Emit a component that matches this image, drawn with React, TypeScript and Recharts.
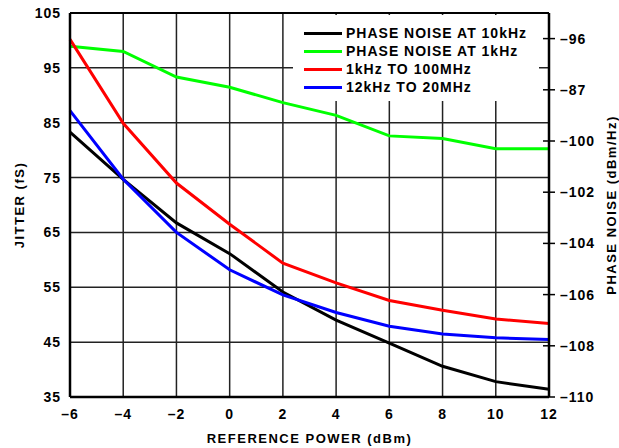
import { LineChart, Line, XAxis, YAxis, CartesianGrid, Legend, Label, ReferenceLine } from 'recharts'

// reference power sweep, dBm
const powerDbm = [-6, -4, -2, 0, 2, 4, 6, 8, 10, 12]

// phase noise, dBm/Hz (right axis)
const phaseNoise10k = [-99.65, -101.5, -103.2, -104.4, -105.9, -107.0, -107.9, -108.8, -109.4, -109.7]
const phaseNoise1k = [-96.3, -96.5, -97.5, -97.9, -98.5, -99.0, -99.8, -99.9, -100.3, -100.3]

// jitter, fs (left axis)
const jitter1kTo100M = [100.2, 84.9, 74.0, 66.5, 59.4, 55.8, 52.6, 50.8, 49.2, 48.4]
const jitter12kTo20M = [87.2, 74.7, 65.0, 58.2, 53.6, 50.4, 47.9, 46.5, 45.8, 45.5]

const seriesNames = ['PHASE NOISE AT 10kHz', 'PHASE NOISE AT 1kHz', '1kHz TO 100MHz', '12kHz TO 20MHz']
const seriesColors = ['#000000', '#00ff00', '#ff0000', '#0000ff']

const powerTicks = [-6, -4, -2, 0, 2, 4, 6, 8, 10, 12]
const jitterTicks = [35, 45, 55, 65, 75, 85, 95, 105]
const phaseTicks = [-110, -108, -106, -104, -102, -100, -98, -96]
const phaseTickText = ['–110', '–108', '–106', '–104', '–102', '–100', '–87', '–96']

const FONT = "'Liberation Sans', Arial, Helvetica, sans-serif"

const rows = powerDbm.map((p, i) => ({
  power: p,
  pn10k: phaseNoise10k[i],
  pn1k: phaseNoise1k[i],
  j100m: jitter1kTo100M[i],
  j20m: jitter12kTo20M[i],
}))

const dash = (v: number) => (v < 0 ? `–${Math.abs(v)}` : String(v))

function PhaseTick(props: any) {
  const { x, y, payload } = props
  const idx = phaseTicks.indexOf(payload.value)
  return (
    <g>
      <line x1={x - 6} x2={x + 6} y1={y} y2={y} stroke="#000" strokeWidth={1.5} />
      <text x={x + 11} y={y} dy={5} fontSize={14} fontWeight={700} letterSpacing={1} fill="#000" fontFamily={FONT}>
        {idx >= 0 ? phaseTickText[idx] : ''}
      </text>
    </g>
  )
}

function LegendBox() {
  return (
    <div style={{ background: '#fff', width: 246, height: 86, paddingTop: 9, boxSizing: 'border-box', fontFamily: FONT }}>
      {seriesNames.map((name, i) => (
        <div key={name} style={{ display: 'flex', alignItems: 'center', height: 18 }}>
          <span style={{ display: 'inline-block', width: 38, height: 3, marginLeft: 11, marginRight: 4, background: seriesColors[i] }} />
          <span style={{ fontSize: 14, fontWeight: 700, letterSpacing: 1, color: '#000', lineHeight: '18px' }}>{name}</span>
        </div>
      ))}
    </div>
  )
}

const titleStyle = { fontSize: 13, fontWeight: 700, letterSpacing: 1.5, fill: '#000', fontFamily: FONT }

export default function App() {
  return (
    <div style={{ position: 'absolute', left: 0, top: 0, width: 619, height: 448, background: '#fff' }}>
      <LineChart width={619} height={448} data={rows} margin={{ top: 13, right: 0, bottom: 0, left: 0 }} style={{ fontFamily: FONT }}>
        <CartesianGrid yAxisId="left" stroke="#222" strokeWidth={1.5} horizontalValues={jitterTicks} verticalValues={powerTicks} />
        <XAxis
          dataKey="power"
          type="number"
          domain={[-6, 12]}
          ticks={powerTicks}
          tickFormatter={dash}
          height={51}
          tickSize={0}
          tickMargin={12}
          axisLine={{ stroke: '#000', strokeWidth: 2.5 }}
          tick={{ fontSize: 14, fontWeight: 700, fill: '#000', letterSpacing: 1 }}
        >
          <Label
            content={(p: any) => {
              const vb = p.viewBox
              return (
                <text x={vb.x + vb.width / 2} y={443} textAnchor="middle" {...titleStyle}>
                  REFERENCE POWER (dBm)
                </text>
              )
            }}
          />
        </XAxis>
        <YAxis
          yAxisId="left"
          domain={[35, 105]}
          ticks={jitterTicks}
          width={70}
          tickSize={0}
          tickMargin={9}
          axisLine={{ stroke: '#000', strokeWidth: 2.5 }}
          tick={{ fontSize: 14, fontWeight: 700, fill: '#000', letterSpacing: 1 }}
        >
          <Label
            content={(p: any) => {
              const vb = p.viewBox
              const cy = vb.y + vb.height / 2
              return (
                <text x={24} y={cy} textAnchor="middle" transform={`rotate(-90, 24, ${cy})`} {...titleStyle}>
                  JITTER (fS)
                </text>
              )
            }}
          />
        </YAxis>
        <YAxis
          yAxisId="right"
          orientation="right"
          domain={[-110, -95]}
          ticks={phaseTicks}
          width={70}
          tickSize={0}
          tickMargin={0}
          axisLine={{ stroke: '#000', strokeWidth: 2.5 }}
          tick={<PhaseTick />}
        >
          <Label
            content={(p: any) => {
              const vb = p.viewBox
              const cy = vb.y + vb.height / 2
              return (
                <text x={616} y={cy} textAnchor="middle" transform={`rotate(-90, 616, ${cy})`} {...titleStyle}>
                  PHASE NOISE (dBm/Hz)
                </text>
              )
            }}
          />
        </YAxis>
        <ReferenceLine yAxisId="left" y={105} stroke="#000" strokeWidth={2} />
        <Legend
          layout="vertical"
          align="center"
          verticalAlign="middle"
          content={<LegendBox />}
          wrapperStyle={{ left: 293, top: 15, width: 246, height: 86 }}
        />
        <Line yAxisId="right" dataKey="pn10k" name={seriesNames[0]} stroke={seriesColors[0]} strokeWidth={3} dot={false} isAnimationActive={false} />
        <Line yAxisId="right" dataKey="pn1k" name={seriesNames[1]} stroke={seriesColors[1]} strokeWidth={3} dot={false} isAnimationActive={false} />
        <Line yAxisId="left" dataKey="j100m" name={seriesNames[2]} stroke={seriesColors[2]} strokeWidth={3} dot={false} isAnimationActive={false} />
        <Line yAxisId="left" dataKey="j20m" name={seriesNames[3]} stroke={seriesColors[3]} strokeWidth={3} dot={false} isAnimationActive={false} />
      </LineChart>
    </div>
  )
}
